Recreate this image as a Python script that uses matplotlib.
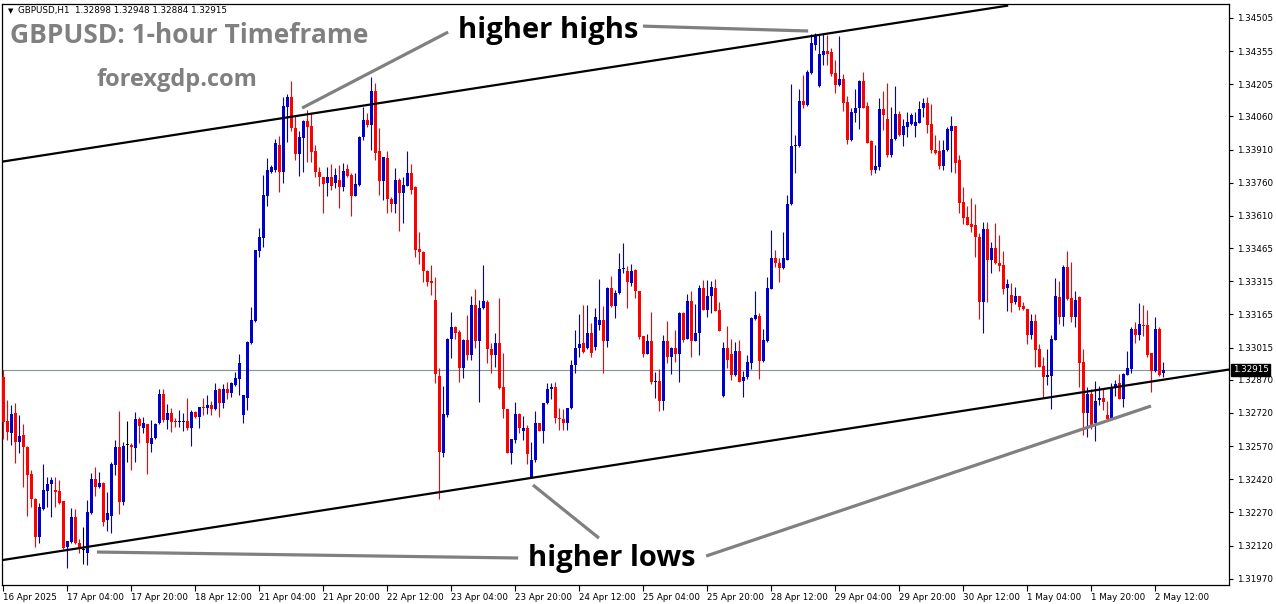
import numpy as np
import matplotlib
matplotlib.use("Agg")
import matplotlib.pyplot as plt

# GBPUSD H1 candles, 16 Apr 2025 12:00 -> 2 May 2025 14:00
opens = [
    1.32883, 1.32684, 1.32630, 1.32720, 1.32590, 1.32620, 1.32567, 1.32443, 1.32332, 1.32160,
    1.32285, 1.32368, 1.32398, 1.32370, 1.32365, 1.32321, 1.32112, 1.32137, 1.32250, 1.32130,
    1.32098, 1.32088, 1.32268, 1.32421, 1.32386, 1.32404, 1.32235, 1.32256, 1.32484, 1.32567,
    1.32318, 1.32574, 1.32574, 1.32562, 1.32692, 1.32653, 1.32668, 1.32579, 1.32605, 1.32672,
    1.32805, 1.32687, 1.32718, 1.32684, 1.32677, 1.32677, 1.32684, 1.32650, 1.32722, 1.32700,
    1.32748, 1.32740, 1.32755, 1.32736, 1.32826, 1.32763, 1.32826, 1.32808, 1.32846, 1.32873,
    1.32710, 1.32788, 1.33034, 1.33137, 1.33453, 1.33512, 1.33702, 1.33810, 1.33818, 1.33931,
    1.33810, 1.34104, 1.34149, 1.34006, 1.33890, 1.33961, 1.34041, 1.34018, 1.33905, 1.33810,
    1.33788, 1.33757, 1.33788, 1.33757, 1.33773, 1.33742, 1.33821, 1.33795, 1.33702, 1.33750,
    1.33965, 1.34044, 1.34021, 1.34176, 1.33905, 1.33770, 1.33873, 1.33685, 1.33664, 1.33773,
    1.33715, 1.33747, 1.33803, 1.33742, 1.33459, 1.33448, 1.33363, 1.33317, 1.33230, 1.32886,
    1.32540, 1.32710, 1.33052, 1.33110, 1.33084, 1.32921, 1.33049, 1.32981, 1.33207, 1.33046,
    1.33192, 1.33222, 1.33007, 1.32981, 1.33034, 1.32835, 1.32736, 1.32540, 1.32597, 1.32715,
    1.32640, 1.32650, 1.32431, 1.32507, 1.32672, 1.32639, 1.32763, 1.32826, 1.32835, 1.32695,
    1.32693, 1.32672, 1.32740, 1.32936, 1.33011, 1.33034, 1.33011, 1.33079, 1.33016, 1.33117,
    1.33140, 1.33046, 1.33283, 1.33203, 1.33260, 1.33368, 1.33362, 1.33308, 1.33365, 1.33270,
    1.33066, 1.32988, 1.33045, 1.32860, 1.32863, 1.32774, 1.33045, 1.32973, 1.33015, 1.32988,
    1.33172, 1.33056, 1.33226, 1.33045, 1.33081, 1.33286, 1.33187, 1.33247, 1.33286, 1.33184,
    1.32795, 1.33011, 1.32988, 1.32890, 1.32999, 1.32864, 1.32880, 1.32946, 1.33146, 1.33157,
    1.32955, 1.33045, 1.33282, 1.33422, 1.33398, 1.33377, 1.33413, 1.33663, 1.33925, 1.33925,
    1.34130, 1.34111, 1.34254, 1.34382, 1.34197, 1.34337, 1.34355, 1.34349, 1.34257, 1.34201,
    1.34228, 1.34126, 1.33952, 1.34076, 1.34096, 1.34221, 1.34106, 1.33950, 1.33817, 1.33832,
    1.34093, 1.34050, 1.33885, 1.33957, 1.34070, 1.33975, 1.34013, 1.34025, 1.34016, 1.34031,
    1.34100, 1.34121, 1.34025, 1.33910, 1.33903, 1.33835, 1.33907, 1.33995, 1.34016, 1.33865,
    1.33672, 1.33606, 1.33573, 1.33568, 1.33515, 1.33222, 1.33549, 1.33413, 1.33463, 1.33398,
    1.33387, 1.33283, 1.33253, 1.33222, 1.33248, 1.33203, 1.33189, 1.33072, 1.33136, 1.33008,
    1.32933, 1.32883, 1.32888, 1.33049, 1.33245, 1.33152, 1.33381, 1.33240, 1.33155, 1.33245,
    1.32948, 1.32721, 1.32805, 1.32672, 1.32778, 1.32788, 1.32710, 1.32699, 1.32838, 1.32853,
    1.32782, 1.32891, 1.32918, 1.33099, 1.33072, 1.33117, 1.33117, 1.32989, 1.32910, 1.33099,
    1.32898,
]
highs = [
    1.32913, 1.32778, 1.32755, 1.32763, 1.32710, 1.32669, 1.32570, 1.32464, 1.32335, 1.32311,
    1.32488, 1.32428, 1.32431, 1.32431, 1.32416, 1.32323, 1.32142, 1.32288, 1.32284, 1.32150,
    1.32205, 1.32326, 1.32449, 1.32476, 1.32452, 1.32406, 1.32363, 1.32499, 1.32597, 1.32730,
    1.32589, 1.32684, 1.32585, 1.32725, 1.32700, 1.32703, 1.32670, 1.32687, 1.32672, 1.32828,
    1.32828, 1.32760, 1.32740, 1.32695, 1.32733, 1.32718, 1.32785, 1.32733, 1.32730, 1.32748,
    1.32785, 1.32800, 1.32775, 1.32853, 1.32831, 1.32850, 1.32861, 1.32861, 1.32906, 1.32986,
    1.32802, 1.33044, 1.33197, 1.33458, 1.33554, 1.33795, 1.33870, 1.33840, 1.33956, 1.33971,
    1.34146, 1.34161, 1.34220, 1.34062, 1.33996, 1.34044, 1.34089, 1.34074, 1.33931, 1.33833,
    1.33788, 1.33830, 1.33845, 1.33825, 1.33840, 1.33848, 1.33845, 1.33803, 1.33803, 1.33971,
    1.34104, 1.34074, 1.34240, 1.34210, 1.34006, 1.33875, 1.33905, 1.33697, 1.33825, 1.33780,
    1.33788, 1.33905, 1.33845, 1.33745, 1.33539, 1.33450, 1.33365, 1.33388, 1.33335, 1.32921,
    1.32841, 1.33057, 1.33177, 1.33112, 1.33094, 1.33052, 1.33162, 1.33248, 1.33278, 1.33230,
    1.33388, 1.33230, 1.33034, 1.33082, 1.33238, 1.32992, 1.32738, 1.32604, 1.32770, 1.32718,
    1.32706, 1.32665, 1.32590, 1.32730, 1.32675, 1.32765, 1.32856, 1.32856, 1.32861, 1.32740,
    1.32736, 1.32742, 1.32959, 1.33094, 1.33167, 1.33207, 1.33207, 1.33125, 1.33192, 1.33323,
    1.33203, 1.33290, 1.33338, 1.33275, 1.33444, 1.33488, 1.33383, 1.33392, 1.33372, 1.33272,
    1.33068, 1.33075, 1.33176, 1.32905, 1.32920, 1.33071, 1.33136, 1.33018, 1.33093, 1.33176,
    1.33176, 1.33259, 1.33271, 1.33214, 1.33297, 1.33320, 1.33320, 1.33317, 1.33323, 1.33222,
    1.33041, 1.33112, 1.33056, 1.33041, 1.33051, 1.32910, 1.32980, 1.33154, 1.33271, 1.33172,
    1.33101, 1.33335, 1.33546, 1.33458, 1.33422, 1.33538, 1.33704, 1.34206, 1.33975, 1.34186,
    1.34246, 1.34269, 1.34432, 1.34438, 1.34427, 1.34435, 1.34427, 1.34367, 1.34314, 1.34423,
    1.34251, 1.34151, 1.34096, 1.34186, 1.34224, 1.34261, 1.34126, 1.33952, 1.33930, 1.34141,
    1.34176, 1.34212, 1.34103, 1.34197, 1.34085, 1.34046, 1.34081, 1.34076, 1.34081, 1.34130,
    1.34141, 1.34148, 1.34115, 1.33975, 1.33952, 1.33955, 1.34013, 1.34061, 1.34018, 1.33885,
    1.33742, 1.33654, 1.33689, 1.33666, 1.33531, 1.33583, 1.33583, 1.33493, 1.33576, 1.33523,
    1.33452, 1.33323, 1.33305, 1.33287, 1.33250, 1.33222, 1.33190, 1.33167, 1.33167, 1.33031,
    1.32974, 1.33008, 1.33072, 1.33328, 1.33317, 1.33388, 1.33451, 1.33403, 1.33271, 1.33247,
    1.33008, 1.32838, 1.32830, 1.32864, 1.32841, 1.32826, 1.32773, 1.32856, 1.32868, 1.32895,
    1.32898, 1.32999, 1.33106, 1.33132, 1.33215, 1.33207, 1.33185, 1.32990, 1.33152, 1.33109,
    1.32948,
]
lows = [
    1.32600, 1.32597, 1.32574, 1.32495, 1.32537, 1.32383, 1.32255, 1.32296, 1.32115, 1.32134,
    1.32283, 1.32296, 1.32250, 1.32296, 1.32308, 1.32105, 1.32021, 1.32133, 1.32127, 1.32085,
    1.32039, 1.32032, 1.32262, 1.32345, 1.32382, 1.32208, 1.32187, 1.32178, 1.32439, 1.32265,
    1.32303, 1.32499, 1.32461, 1.32499, 1.32582, 1.32630, 1.32442, 1.32544, 1.32600, 1.32668,
    1.32680, 1.32645, 1.32635, 1.32654, 1.32657, 1.32639, 1.32642, 1.32571, 1.32695, 1.32650,
    1.32710, 1.32715, 1.32710, 1.32733, 1.32703, 1.32740, 1.32781, 1.32793, 1.32843, 1.32800,
    1.32672, 1.32733, 1.33031, 1.33132, 1.33423, 1.33471, 1.33656, 1.33805, 1.33810, 1.33720,
    1.33760, 1.33946, 1.33996, 1.33863, 1.33792, 1.33810, 1.33855, 1.33855, 1.33788, 1.33745,
    1.33625, 1.33700, 1.33727, 1.33735, 1.33644, 1.33723, 1.33788, 1.33611, 1.33698, 1.33745,
    1.33953, 1.34014, 1.33908, 1.33863, 1.33705, 1.33682, 1.33622, 1.33626, 1.33622, 1.33543,
    1.33577, 1.33745, 1.33709, 1.33423, 1.33393, 1.33313, 1.33293, 1.33253, 1.32853, 1.32329,
    1.32519, 1.32700, 1.32966, 1.33052, 1.32861, 1.32876, 1.32959, 1.32959, 1.33011, 1.32770,
    1.33190, 1.32944, 1.32901, 1.32929, 1.32828, 1.32695, 1.32537, 1.32491, 1.32582, 1.32630,
    1.32597, 1.32491, 1.32428, 1.32499, 1.32636, 1.32582, 1.32760, 1.32781, 1.32672, 1.32642,
    1.32642, 1.32642, 1.32736, 1.32901, 1.32974, 1.32992, 1.33007, 1.32974, 1.33004, 1.33094,
    1.32898, 1.33019, 1.33200, 1.33147, 1.33258, 1.33353, 1.33196, 1.33292, 1.33237, 1.33056,
    1.32973, 1.32986, 1.32852, 1.32785, 1.32729, 1.32735, 1.32946, 1.32895, 1.32950, 1.32860,
    1.33041, 1.33054, 1.32973, 1.33043, 1.32980, 1.33184, 1.33154, 1.33172, 1.33179, 1.33088,
    1.32793, 1.32925, 1.32870, 1.32885, 1.32858, 1.32792, 1.32875, 1.32920, 1.33139, 1.32875,
    1.32950, 1.33041, 1.33280, 1.33380, 1.33312, 1.33372, 1.33410, 1.33659, 1.33802, 1.33923,
    1.34100, 1.34109, 1.34251, 1.34359, 1.34195, 1.34292, 1.34292, 1.34242, 1.34166, 1.34199,
    1.34085, 1.33934, 1.33950, 1.34035, 1.34001, 1.34098, 1.33938, 1.33794, 1.33805, 1.33817,
    1.33998, 1.33877, 1.33877, 1.33955, 1.33971, 1.33925, 1.33965, 1.34020, 1.33965, 1.34028,
    1.34058, 1.33986, 1.33895, 1.33892, 1.33820, 1.33817, 1.33904, 1.33809, 1.33805, 1.33624,
    1.33573, 1.33568, 1.33538, 1.33425, 1.33146, 1.33081, 1.33222, 1.33353, 1.33395, 1.33362,
    1.33259, 1.33182, 1.33177, 1.33212, 1.33185, 1.33185, 1.33031, 1.33054, 1.32926, 1.32926,
    1.32785, 1.32846, 1.32737, 1.33048, 1.33121, 1.33112, 1.33230, 1.33132, 1.33109, 1.32838,
    1.32620, 1.32612, 1.32645, 1.32594, 1.32755, 1.32733, 1.32687, 1.32695, 1.32796, 1.32781,
    1.32748, 1.32890, 1.32898, 1.33034, 1.33049, 1.33067, 1.32974, 1.32815, 1.32906, 1.32886,
    1.32884,
]
closes = [
    1.32680, 1.32635, 1.32715, 1.32590, 1.32615, 1.32567, 1.32439, 1.32332, 1.32160, 1.32293,
    1.32371, 1.32398, 1.32416, 1.32363, 1.32311, 1.32107, 1.32140, 1.32250, 1.32130, 1.32107,
    1.32098, 1.32271, 1.32421, 1.32386, 1.32404, 1.32228, 1.32268, 1.32488, 1.32567, 1.32318,
    1.32570, 1.32574, 1.32564, 1.32692, 1.32660, 1.32672, 1.32582, 1.32608, 1.32669, 1.32805,
    1.32687, 1.32721, 1.32680, 1.32677, 1.32684, 1.32684, 1.32650, 1.32725, 1.32700, 1.32745,
    1.32740, 1.32755, 1.32736, 1.32823, 1.32763, 1.32826, 1.32808, 1.32853, 1.32876, 1.32944,
    1.32800, 1.33042, 1.33140, 1.33456, 1.33516, 1.33705, 1.33818, 1.33830, 1.33938, 1.33810,
    1.34107, 1.34146, 1.34006, 1.33890, 1.33968, 1.34041, 1.34014, 1.33898, 1.33810, 1.33785,
    1.33754, 1.33788, 1.33745, 1.33795, 1.33742, 1.33815, 1.33791, 1.33702, 1.33754, 1.33965,
    1.34044, 1.34021, 1.34176, 1.33896, 1.33770, 1.33875, 1.33685, 1.33664, 1.33773, 1.33712,
    1.33750, 1.33803, 1.33727, 1.33456, 1.33448, 1.33363, 1.33313, 1.33308, 1.32895, 1.32544,
    1.32715, 1.33054, 1.33110, 1.33082, 1.32921, 1.33049, 1.32981, 1.33207, 1.33046, 1.33192,
    1.33227, 1.33007, 1.32981, 1.33034, 1.32831, 1.32736, 1.32540, 1.32602, 1.32715, 1.32650,
    1.32650, 1.32534, 1.32507, 1.32672, 1.32639, 1.32763, 1.32826, 1.32835, 1.32695, 1.32693,
    1.32672, 1.32740, 1.32936, 1.33011, 1.33031, 1.32996, 1.33079, 1.32992, 1.33152, 1.33140,
    1.33046, 1.33283, 1.33203, 1.33260, 1.33369, 1.33377, 1.33312, 1.33362, 1.33270, 1.33063,
    1.32988, 1.33045, 1.32860, 1.32863, 1.32774, 1.33045, 1.32973, 1.33015, 1.32988, 1.33172,
    1.33051, 1.33226, 1.33045, 1.33081, 1.33286, 1.33187, 1.33247, 1.33289, 1.33181, 1.33090,
    1.33014, 1.32961, 1.32890, 1.32999, 1.32860, 1.32882, 1.32950, 1.33149, 1.33161, 1.32955,
    1.33048, 1.33285, 1.33419, 1.33398, 1.33377, 1.33419, 1.33663, 1.33925, 1.33930, 1.34130,
    1.34111, 1.34261, 1.34393, 1.34423, 1.34341, 1.34355, 1.34344, 1.34251, 1.34201, 1.34228,
    1.34121, 1.33952, 1.34081, 1.34096, 1.34221, 1.34100, 1.33940, 1.33817, 1.33835, 1.34093,
    1.34066, 1.33885, 1.33957, 1.34070, 1.33975, 1.34016, 1.34034, 1.34066, 1.34035, 1.34093,
    1.34121, 1.34020, 1.33907, 1.33895, 1.33835, 1.33907, 1.34002, 1.34016, 1.33850, 1.33669,
    1.33603, 1.33570, 1.33561, 1.33515, 1.33222, 1.33553, 1.33413, 1.33463, 1.33398, 1.33383,
    1.33282, 1.33302, 1.33218, 1.33248, 1.33200, 1.33188, 1.33072, 1.33136, 1.33004, 1.32929,
    1.32883, 1.32891, 1.33054, 1.33248, 1.33152, 1.33381, 1.33233, 1.33155, 1.33230, 1.32947,
    1.32721, 1.32805, 1.32660, 1.32773, 1.32788, 1.32770, 1.32692, 1.32838, 1.32850, 1.32782,
    1.32895, 1.32921, 1.33099, 1.33072, 1.33121, 1.33112, 1.32981, 1.32910, 1.33099, 1.32891,
    1.32915,
]

time_labels = ["16 Apr 2025", "17 Apr 04:00", "17 Apr 20:00", "18 Apr 12:00", "21 Apr 04:00",
               "21 Apr 20:00", "22 Apr 12:00", "23 Apr 04:00", "23 Apr 20:00", "24 Apr 12:00",
               "25 Apr 04:00", "25 Apr 20:00", "28 Apr 12:00", "29 Apr 04:00", "29 Apr 20:00",
               "30 Apr 12:00", "1 May 04:00", "1 May 20:00", "2 May 12:00"]
price_ticks = [1.34505, 1.34355, 1.34205, 1.34060, 1.33910, 1.33760, 1.33610, 1.33465, 1.33315,
               1.33165, 1.33015, 1.32870, 1.32720, 1.32570, 1.32420, 1.32270, 1.32120, 1.31970]
last_price = 1.32915

# channel lines and annotation arrows: (bar, price) end points
upper_channel = [(-0.1, 1.33856), (251.2, 1.34561)]
lower_channel = [(-0.1, 1.32055), (306.4, 1.32916)]
pointer_lines = [
    [(74.7, 1.34098), (111.2, 1.34441)],
    [(159.9, 1.34468), (201.2, 1.34446)],
    [(23.4, 1.32091), (128.7, 1.32064)],
    [(132.4, 1.32394), (148.9, 1.32154)],
    [(175.7, 1.32073), (286.9, 1.32751)],
]
notes = [("higher highs", 113.7, 1.34414), ("higher lows", 131.2, 1.32028)]

o = np.array(opens)
h = np.array(highs)
l = np.array(lows)
c = np.array(closes)
x = np.arange(len(c))

BLUE = "#0000CD"
RED = "#FF0000"
col = np.where(c > o, BLUE, np.where(c < o, RED, "#000000"))

W, H = 1276, 604
fig = plt.figure(figsize=(W / 100, H / 100), dpi=100)
ax = fig.add_axes([2.5 / W, 19 / H, 1226.5 / W, 581 / H])
ax.set_xlim(-0.2, 306.4)
ax.set_ylim(1.31942, 1.34568)

# current price line
ax.axhline(last_price, color="#8a929c", lw=0.8, zorder=1)

# candles
ax.vlines(x, l, h, colors=col, lw=0.8, zorder=3)
body = np.maximum(np.abs(c - o), 0.00005)
ax.bar(x, body, bottom=np.minimum(o, c), width=0.75, color=col, linewidth=0, zorder=4)

# channel
for seg in (upper_channel, lower_channel):
    ax.plot([seg[0][0], seg[1][0]], [seg[0][1], seg[1][1]], color="black", lw=1.6,
            zorder=5, solid_capstyle="butt")
for seg in pointer_lines:
    ax.plot([seg[0][0], seg[1][0]], [seg[0][1], seg[1][1]], color="#808080", lw=2.3,
            zorder=5, solid_capstyle="butt")
for txt, tx, ty in notes:
    ax.text(tx, ty, txt, fontsize=21, fontweight="bold", family="Open Sans",
            color="black", ha="left", va="baseline", zorder=6)

# axes styling (MT4 look)
for s in ax.spines.values():
    s.set_color("black")
    s.set_linewidth(0.9)
ax.set_xticks(np.arange(len(time_labels)) * 16)
ax.set_xticklabels(time_labels, fontsize=6.3, ha="left")
ax.tick_params(axis="x", direction="out", length=4, width=0.8, pad=2)
ax.yaxis.tick_right()
ax.set_yticks(price_ticks)
ax.set_yticklabels([f"{p:.5f}" for p in price_ticks], fontsize=6.3)
ax.tick_params(axis="y", direction="out", length=3, width=0.8, pad=3)

# last price tag
ax.text(1.003, last_price, f"{last_price:.5f}", transform=ax.get_yaxis_transform(),
        fontsize=6.3, color="white", va="center", ha="left",
        bbox=dict(boxstyle="square,pad=0.15", fc="black", ec="black"))

fig.text(8 / W, 1 - 11 / H, "\u25BC", fontsize=5, va="center", ha="left")
fig.text(18 / W, 1 - 11 / H, "GBPUSD,H1  1.32898 1.32948 1.32884 1.32915",
         fontsize=6.3, va="center", ha="left")
fig.text(10 / W, 1 - 43 / H, "GBPUSD: 1-hour Timeframe", fontsize=19,
         fontweight="bold", family="Open Sans", color="#808080", va="baseline")
fig.text(97 / W, 1 - 86 / H, "forexgdp.com", fontsize=17, fontweight="bold",
         family="Open Sans", color="#808080", va="baseline")

fig.savefig("out.png", dpi=100)
